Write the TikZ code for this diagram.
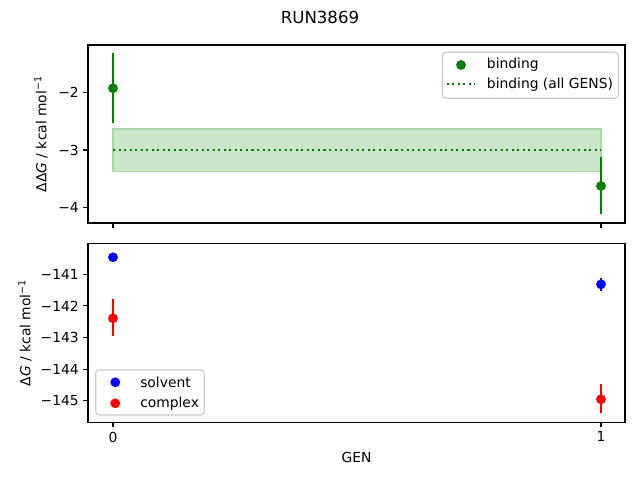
\documentclass[tikz,border=0pt]{standalone}
\usepackage{fontspec}
\setmainfont{DejaVu Sans}
\definecolor{mplgreen}{RGB}{0,128,0}
\definecolor{bandfill}{RGB}{204,230,204}
\definecolor{bandedge}{RGB}{172,214,172}
\definecolor{mplblue}{RGB}{0,0,255}
\definecolor{mplred}{RGB}{255,0,0}
\definecolor{legframe}{RGB}{204,204,204}
\tikzset{
  spine/.style={line width=0.8pt, black},
  tickmark/.style={line width=0.8pt, black},
  ticklab/.style={font=\fontsize{10}{12}\selectfont, inner sep=0pt},
  errbar/.style={line width=1.5pt},
  dot/.style={circle, inner sep=0pt, minimum size=7.1pt, draw=none},
  legbox/.style={draw=legframe, fill=white, fill opacity=0.8, rounded corners=2.5pt, line width=0.8pt},
  legtext/.style={font=\fontsize{10}{12}\selectfont, anchor=west, inner sep=0pt},
  dotline/.style={line width=1.5pt, dash pattern=on 1.5pt off 2.5pt}
}
\begin{document}
\begin{tikzpicture}[x=0.01in, y=-0.01in]
\useasboundingbox (0,0) rectangle (640,480);
\fill[white] (0,0) rectangle (640,480);

% title
\node[font=\fontsize{12}{14}\selectfont] (title) at (320,17) {RUN3869};

% ---------- top axes ----------
\fill[bandfill] (113,129) rectangle (601,171.3);
\draw[bandedge, line width=1pt] (113,129) rectangle (601,171.3);
\draw[mplgreen, dotline] (113,150) -- (601,150);
\draw[mplgreen, errbar] (113,53.3) -- (113,123.3);
\draw[mplgreen, errbar] (601,156.7) -- (601,214);
\node[dot, fill=mplgreen] (g0) at (113,88.3) {};
\node[dot, fill=mplgreen] (g1) at (601,186) {};

\draw[spine] (88,45) rectangle (625,223);
\foreach \yy/\lab in {92.5/−2, 150/−3, 207.5/−4}{
  \draw[tickmark] (88,\yy) -- (83.1,\yy);
  \node[ticklab, anchor=east] (ty\lab) at (79,\yy) {\lab};
}
\foreach \xx in {113,601}{
  \draw[tickmark] (\xx,223) -- (\xx,227.9);
}
\node[font=\fontsize{10}{12}\selectfont, rotate=90] (ylab1) at (41,134) {ΔΔ\textit{G} / kcal mol\textsuperscript{−1}};

% legend top
\draw[legbox] (442.3,52.3) rectangle (618.3,98.3);
\node[dot, fill=mplgreen] (lg1) at (461,65) {};
\node[legtext] (lt1) at (486.7,65) {binding};
\coordinate (ld1) at (446.7,84.3);
\coordinate (ld2) at (475,84.3);
\draw[mplgreen, dotline] (ld1) -- (ld2);
\node[legtext] (lt2) at (486.7,84.3) {binding (all GENS)};

% ---------- bottom axes ----------
\draw[mplblue, errbar] (113,253) -- (113,261.5);
\draw[mplred, errbar] (113,299) -- (113,335.7);
\draw[mplblue, errbar] (601,278.3) -- (601,291);
\draw[mplred, errbar] (601,384) -- (601,413.3);
\node[dot, fill=mplblue] (b0) at (113,257.3) {};
\node[dot, fill=mplred] (r0) at (113,318.3) {};
\node[dot, fill=mplblue] (b1) at (601,284.3) {};
\node[dot, fill=mplred] (r1) at (601,399.3) {};

\draw[spine] (88,243.3) rectangle (625,422.3);
\foreach \yy/\lab in {274.3/−141, 305.9/−142, 337.5/−143, 369.1/−144, 400.7/−145}{
  \draw[tickmark] (88,\yy) -- (83.1,\yy);
  \node[ticklab, anchor=east] (tb\lab) at (79,\yy) {\lab};
}
\foreach \xx/\lab in {113/0, 601/1}{
  \draw[tickmark] (\xx,422.3) -- (\xx,427.2);
  \node[ticklab, anchor=north] (tx\lab) at (\xx,431.5) {\lab};
}
\node[font=\fontsize{10}{12}\selectfont, rotate=90] (ylab2) at (25,332.8) {Δ\textit{G} / kcal mol\textsuperscript{−1}};
\node[font=\fontsize{10}{12}\selectfont] (xlab) at (356.5,457) {GEN};

% legend bottom
\draw[legbox] (95.7,370) rectangle (204.3,415);
\node[dot, fill=mplblue] (lb1) at (115.3,382.3) {};
\node[legtext] (lbt1) at (140,382.3) {solvent};
\node[dot, fill=mplred] (lb2) at (115.3,403.3) {};
\node[legtext] (lbt2) at (140,403.3) {complex};
\end{tikzpicture}
\end{document}
